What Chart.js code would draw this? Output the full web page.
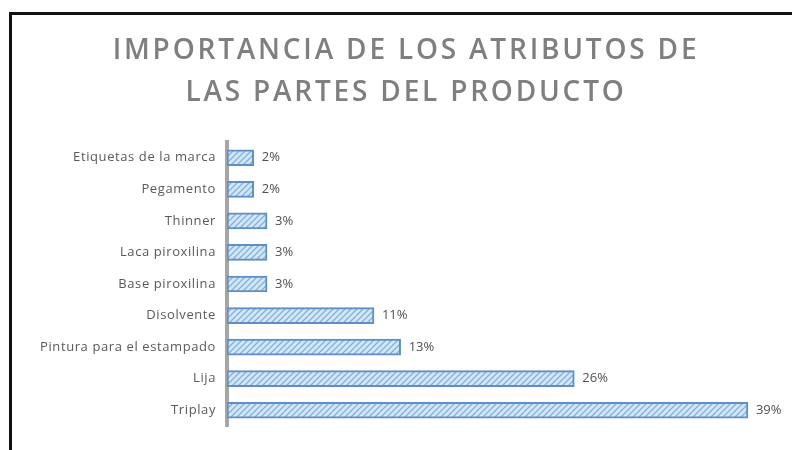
<!DOCTYPE html>
<html>
<head>
<meta charset="utf-8">
<script src="https://cdn.jsdelivr.net/npm/chart.js@4"></script>
<style>
  html, body { margin: 0; padding: 0; background: #fff; overflow: hidden; }
  #wrap { position: absolute; left: 0; top: 0; width: 792px; height: 450px; }
  #frame { position: absolute; left: 9px; top: 12px; width: 800px; height: 460px;
           border: 3px solid #111; pointer-events: none; }
</style>
</head>
<body>
<div id="wrap"><canvas id="chart" width="792" height="450"></canvas></div>
<div id="frame"></div>
<script>
const titleLines = ['IMPORTANCIA DE LOS ATRIBUTOS DE', 'LAS PARTES DEL PRODUCTO'];
const categories = ['Etiquetas de la marca', 'Pegamento', 'Thinner', 'Laca piroxilina',
  'Base piroxilina', 'Disolvente', 'Pintura para el estampado', 'Lija', 'Triplay'];
const values = [2, 2, 3, 3, 3, 11, 13, 26, 39];

const $ = (sel) => document.querySelector(sel);

// hatched fill like the original
function makeHatch() {
  const c = document.createElement('canvas');
  c.width = 6; c.height = 6;
  const g = c.getContext('2d');
  g.fillStyle = '#d4e7f8';
  g.fillRect(0, 0, 6, 6);
  g.strokeStyle = '#80b0e0';
  g.lineWidth = 1.3;
  g.beginPath();
  g.moveTo(-1, 7); g.lineTo(7, -1);
  g.moveTo(-4, 4); g.lineTo(4, -4);
  g.moveTo(2, 10); g.lineTo(10, 2);
  g.stroke();
  return g.createPattern(c, 'repeat');
}

const valueLabels = {
  id: 'valueLabels',
  afterDatasetsDraw(chart) {
    const ctx = chart.ctx;
    const meta = chart.getDatasetMeta(0);
    ctx.save();
    ctx.font = '13px "Open Sans"';
    ctx.fillStyle = '#505050';
    ctx.textAlign = 'left';
    ctx.textBaseline = 'middle';
    meta.data.forEach((bar, i) => {
      ctx.fillText(values[i] + '%', bar.x + 8, bar.y);
    });
    ctx.restore();
  }
};

// letter spacing for title and category labels
function spaced(box, method, chart, px) {
  if (!box || box['_sp_' + method]) return;
  const orig = box[method];
  box[method] = function () {
    chart.ctx.save();
    chart.ctx.letterSpacing = px;
    orig.apply(this, arguments);
    chart.ctx.restore();
  };
  box['_sp_' + method] = true;
}

const spacing = {
  id: 'spacing',
  afterLayout(chart) {
    spaced(chart.titleBlock, 'draw', chart, '2.8px');
    spaced(chart.scales.y, 'drawLabels', chart, '0.6px');
  }
};

new Chart($('#chart'), {
  type: 'bar',
  data: {
    labels: categories,
    datasets: [{
      data: values,
      backgroundColor: makeHatch(),
      borderColor: '#5f8fc4',
      borderWidth: 2,
      borderSkipped: false,
      barThickness: 16
    }]
  },
  options: {
    indexAxis: 'y',
    responsive: false,
    animation: false,
    layout: { padding: { left: 20, right: 0, top: 0, bottom: 24 } },
    plugins: {
      legend: { display: false },
      tooltip: { enabled: false },
      title: {
        display: true,
        text: titleLines,
        color: '#7f7f7f',
        font: { family: '"Open Sans"', size: 28, weight: '600', lineHeight: 1.5 },
        padding: { top: 30, bottom: 28 }
      }
    },
    scales: {
      x: { display: false, min: 0, max: 42.3 },
      y: {
        grid: { display: false, drawTicks: false },
        border: { display: true, color: '#a6a6a6', width: 4 },
        ticks: { color: '#595959', font: { family: '"Open Sans"', size: 13 }, padding: 11 },
        afterFit(scale) { scale.width = 207; }
      }
    }
  },
  plugins: [valueLabels, spacing]
});
</script>
</body>
</html>
